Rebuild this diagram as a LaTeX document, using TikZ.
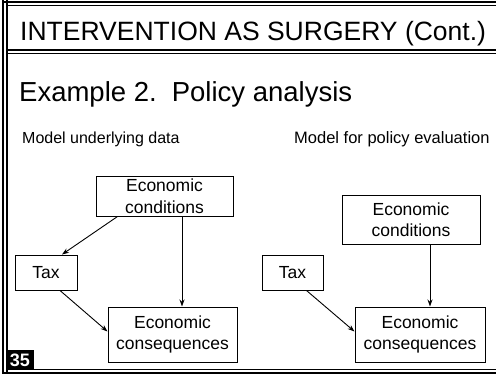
\documentclass[tikz,border=0pt]{standalone}
\usepackage{fontspec}
\setmainfont{Liberation Sans}
\usetikzlibrary{arrows.meta}
\begin{document}
\begin{tikzpicture}[x=1pt,y=-1pt,
  box/.style={draw,line width=1pt,align=center,font=\fontsize{17.5}{21.5}\selectfont,inner sep=0pt},
  arr/.style={-{Stealth[length=7pt,width=5pt]},line width=0.9pt},
  lbl/.style={anchor=base west,inner sep=0pt}]
\useasboundingbox (0,0) rectangle (496,376);
% frame
\draw[line width=1.2pt] (3,0) -- (3,374);
\draw[line width=1.2pt] (7,0) -- (7,372);
\draw[line width=1.2pt] (3,2) -- (496,2);
\draw[line width=0.8pt] (7,5) -- (496,5);
\draw[line width=1.2pt] (7,50) -- (496,50);
\draw[line width=0.8pt] (7,53) -- (496,53);
\draw[line width=0.8pt] (7,369) -- (496,369);
\draw[line width=1.2pt] (3,373) -- (496,373);
% texts
\node[lbl,font=\fontsize{26.5}{30}\selectfont] (title) at (20,40) {INTERVENTION AS SURGERY (Cont.)};
\node[lbl,font=\fontsize{27.5}{30}\selectfont] (ex) at (19,101) {Example 2.\hspace{0.55em}Policy analysis};
\node[lbl,font=\fontsize{16}{19}\selectfont] (lm) at (22,143) {Model underlying data};
\node[lbl,font=\fontsize{16.5}{19}\selectfont] (rm) at (294,143) {Model for policy evaluation};
% left model
\node[box,minimum width=137,minimum height=40] (lec) at (164.5,196) {Economic\\conditions};
\node[box,minimum width=62,minimum height=35] (ltax) at (46,272.5) {Tax};
\node[box,minimum width=129,minimum height=55] (lcons) at (172.5,334.5) {Economic\\consequences};
\draw[arr] ([xshift=22]lec.south west) -- ([xshift=16]ltax.north);
\draw[arr] ([xshift=17.5]lec.south) -- ([xshift=17.5]lec.south |- lcons.north);
\draw[arr] ([xshift=14]ltax.south) -- ([yshift=3]lcons.west);
% right model
\node[box,minimum width=138,minimum height=49] (rec) at (411,219.5) {Economic\\conditions};
\node[box,minimum width=61,minimum height=35] (rtax) at (292.5,272.5) {Tax};
\node[box,minimum width=130,minimum height=55] (rcons) at (420,334.5) {Economic\\consequences};
\draw[arr] ([xshift=19]rec.south) -- ([xshift=19]rec.south |- rcons.north);
\draw[arr] ([xshift=14]rtax.south) -- ([yshift=3]rcons.west);
% slide number
\node[fill=black,text=white,font=\fontsize{18}{18}\selectfont\bfseries,minimum width=28,minimum height=20,inner sep=0pt] (num) at (20,360) {35};
\end{tikzpicture}
\end{document}
